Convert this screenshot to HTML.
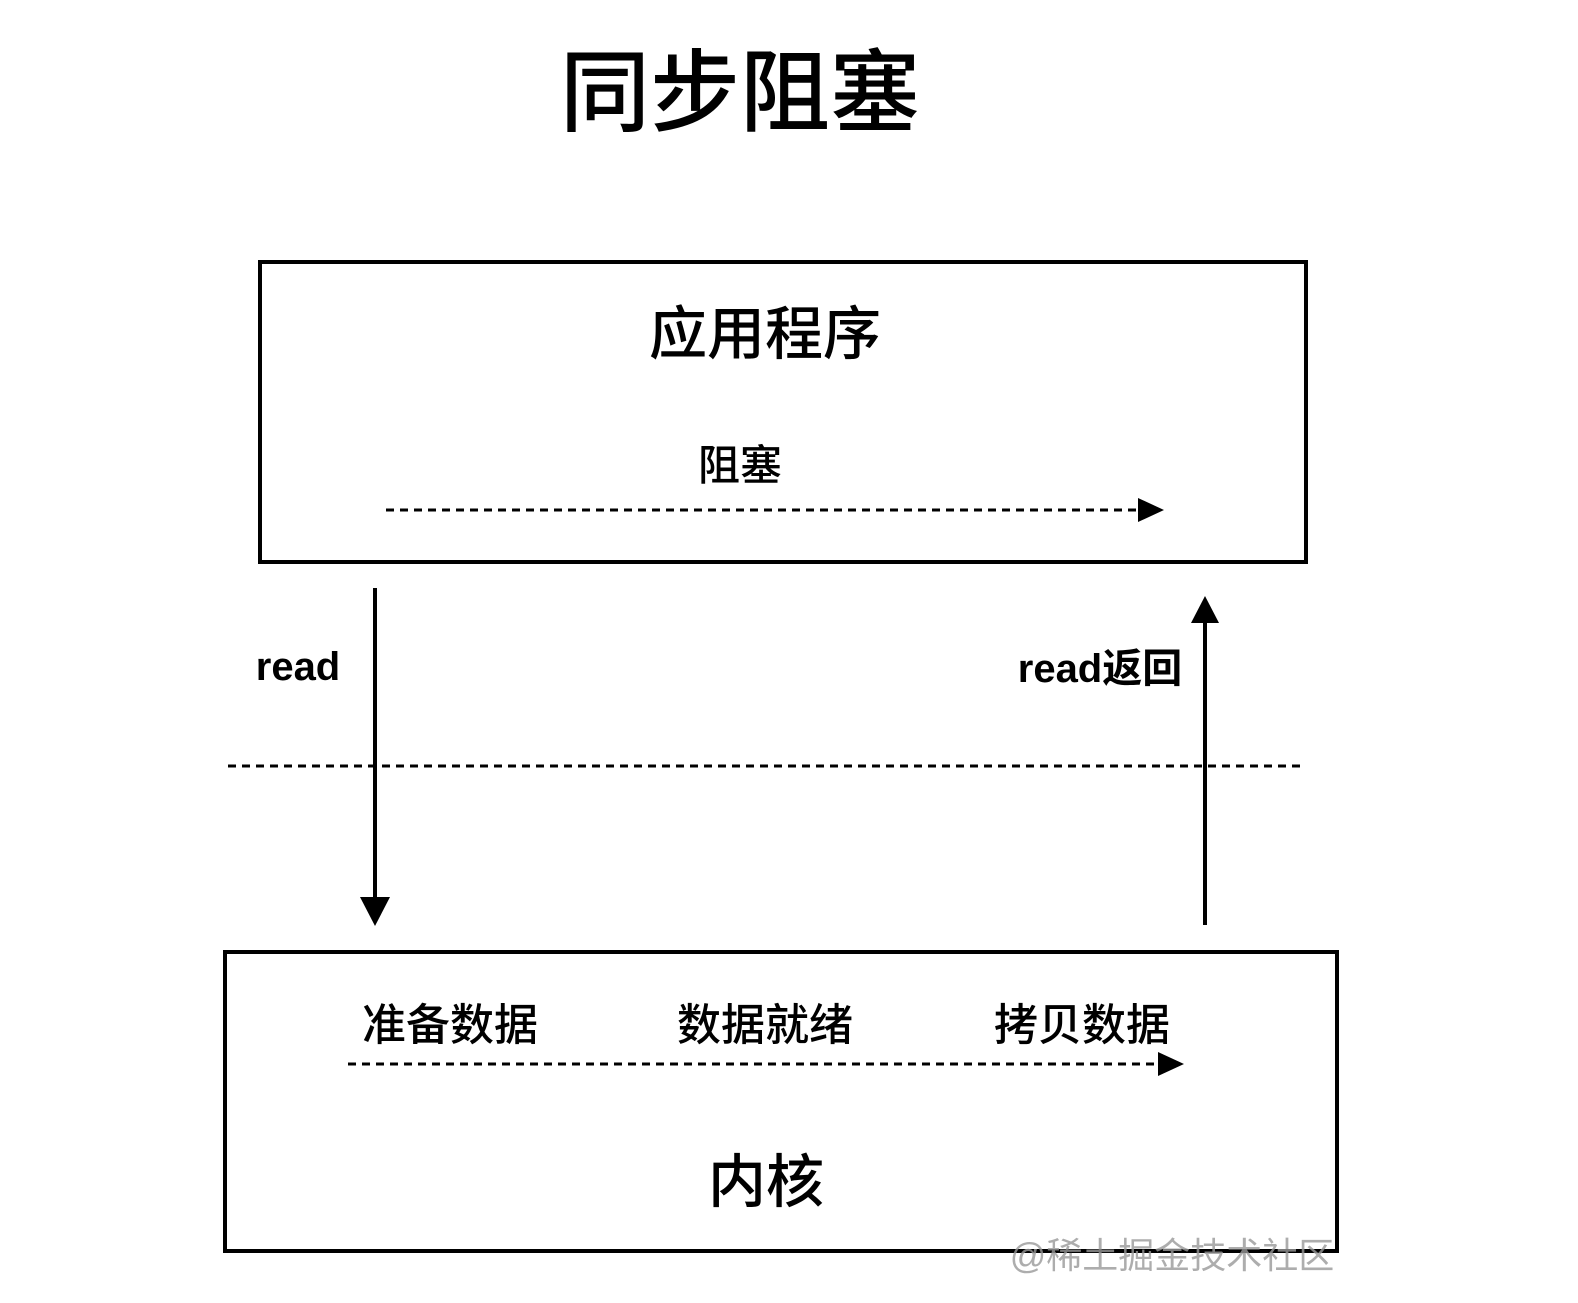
<!DOCTYPE html>
<html><head><meta charset="utf-8"><style>
body{margin:0;background:#fff}
svg text{font-family:"Liberation Sans","Noto Sans CJK SC",sans-serif;fill:#000}
</style></head><body>
<svg width="1578" height="1298" viewBox="0 0 1578 1298" xmlns="http://www.w3.org/2000/svg">
<text x="740" y="124" font-size="90" font-weight="500" text-anchor="middle">同步阻塞</text>
<rect x="260" y="262" width="1046" height="300" fill="none" stroke="#000" stroke-width="4"/>
<text x="765" y="354" font-size="58" font-weight="500" text-anchor="middle">应用程序</text>
<text x="740" y="480" font-size="42" font-weight="500" text-anchor="middle">阻塞</text>
<line x1="386" y1="510" x2="1140" y2="510" stroke="#000" stroke-width="3" stroke-dasharray="8 6"/>
<polygon points="1138,498 1164,510 1138,522" fill="#000"/>
<line x1="375" y1="588" x2="375" y2="900" stroke="#000" stroke-width="4"/>
<polygon points="360,897 390,897 375,926" fill="#000"/>
<text x="298" y="680" font-size="40" font-weight="bold" text-anchor="middle">read</text>
<line x1="1205" y1="620" x2="1205" y2="925" stroke="#000" stroke-width="4"/>
<polygon points="1191,623 1219,623 1205,596" fill="#000"/>
<text x="1100" y="682" font-size="40" font-weight="bold" text-anchor="middle">read返回</text>
<line x1="228" y1="766" x2="1306" y2="766" stroke="#000" stroke-width="3" stroke-dasharray="8 6"/>
<rect x="225" y="952" width="1112" height="299" fill="none" stroke="#000" stroke-width="4"/>
<text x="450" y="1040" font-size="44" font-weight="500" text-anchor="middle">准备数据</text>
<text x="765" y="1040" font-size="44" font-weight="500" text-anchor="middle">数据就绪</text>
<text x="1082" y="1040" font-size="44" font-weight="500" text-anchor="middle">拷贝数据</text>
<line x1="348" y1="1064" x2="1160" y2="1064" stroke="#000" stroke-width="3" stroke-dasharray="8 6"/>
<polygon points="1158,1052 1184,1064 1158,1076" fill="#000"/>
<text x="766" y="1202" font-size="58" font-weight="500" text-anchor="middle">内核</text>
<text x="1172" y="1268" font-size="36" text-anchor="middle" style="fill:#999;opacity:0.8">@稀土掘金技术社区</text>
</svg>
</body></html>
